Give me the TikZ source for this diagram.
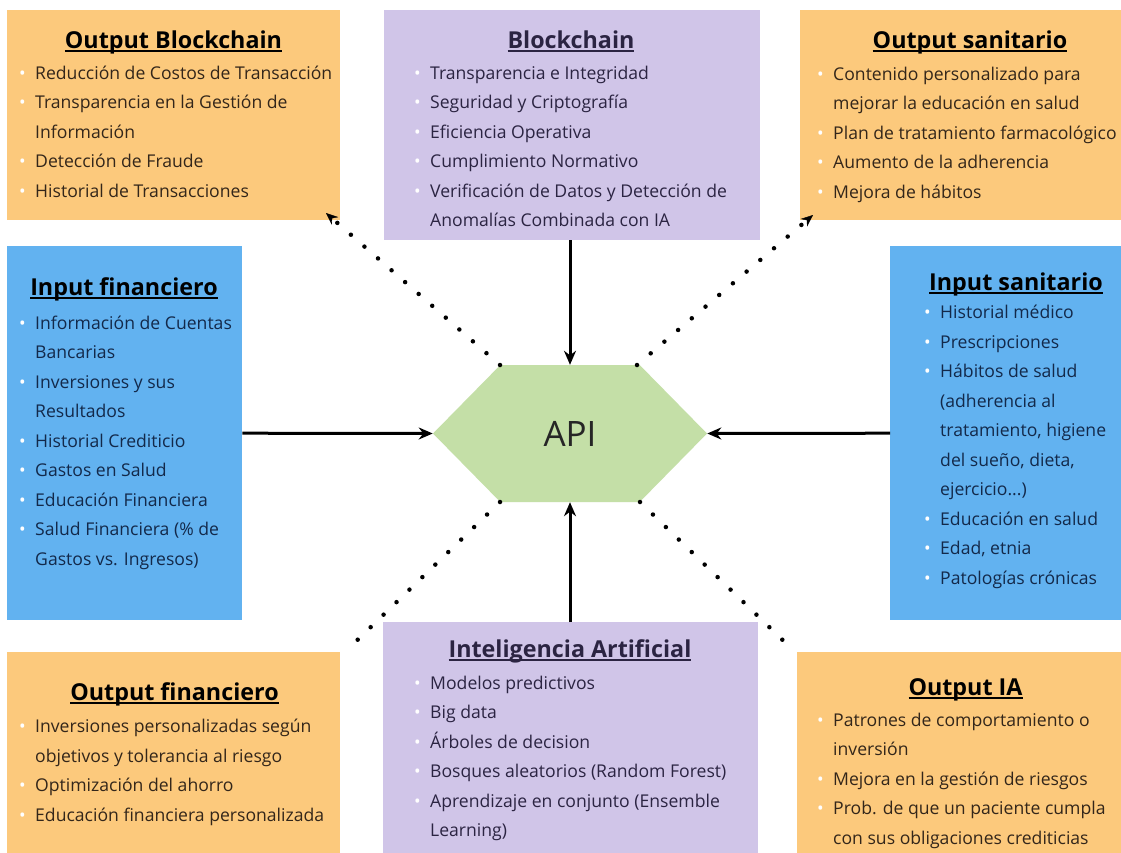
\documentclass[tikz,border=0pt]{standalone}
\usepackage{fontspec}
\setmainfont{Open Sans}
\usetikzlibrary{arrows.meta,shapes.symbols,positioning}

\definecolor{boxorange}{HTML}{FCC97C}
\definecolor{boxpurple}{HTML}{D0C5E8}
\definecolor{boxblue}{HTML}{62B2F0}
\definecolor{apigreen}{HTML}{C4DFA7}
\definecolor{txtbrown}{HTML}{33261A}
\definecolor{txtnavy}{HTML}{13294A}
\definecolor{txtplum}{HTML}{2B2442}

\newsavebox\ttlbox
\newcommand\boxtitle[1]{\sbox\ttlbox{#1}\rlap{\usebox\ttlbox}\rule[-3.8pt]{\wd\ttlbox}{1.8pt}}
\newcommand\bul{\makebox[16pt][l]{\textcolor{white}{\textbullet}}}
\newcommand\ind{\hspace*{16pt}}

\tikzstyle{boxo}=[rectangle,anchor=north west,inner sep=0pt,fill=boxorange]
\tikzstyle{boxp}=[rectangle,anchor=north west,inner sep=0pt,fill=boxpurple]
\tikzstyle{boxb}=[rectangle,anchor=north west,inner sep=0pt,fill=boxblue]
\tikzstyle{ttl}=[anchor=base,inner sep=0pt,font=\bfseries\fontsize{23.3}{27}\selectfont]
% lists are placed at the baseline of their last line
\tikzstyle{items}=[anchor=base west,inner sep=0pt,align=left,font=\fontsize{17.6}{29.5}\selectfont]
\tikzstyle{api}=[signal,signal to=west and east,signal pointer angle=91,fill=apigreen,
  minimum width=274pt,minimum height=137pt,inner sep=0pt,text=black!85,font=\fontsize{35}{40}\selectfont]
\tikzstyle{solidarrow}=[line width=3pt,-{Stealth[length=14pt,width=12pt]}]
\tikzstyle{dotline}=[line width=4.5pt,line cap=round,dash pattern=on 0pt off 18pt]
\tikzstyle{dotarrow}=[dotline,-{Stealth[length=12pt,width=10pt,line width=0.4pt]}]

\begin{document}
\begin{tikzpicture}[x=1pt,y=-1pt]
    \useasboundingbox (0,0) rectangle (1121,852);
    \fill[white] (0,0) rectangle (1121,852);

    % boxes
    \node[boxo,minimum width=333pt,minimum height=210pt] (ob)  at (7,10)    {};
    \node[boxp,minimum width=376pt,minimum height=230pt] (bc)  at (384,10)  {};
    \node[boxo,minimum width=340pt,minimum height=210pt] (os)  at (800,10)  {};
    \node[boxb,minimum width=235pt,minimum height=374pt] (inf) at (7,246)   {};
    \node[boxb,minimum width=250pt,minimum height=374pt] (ins) at (890,246) {};
    \node[boxo,minimum width=333pt,minimum height=210pt] (of)  at (7,652)   {};
    \node[boxp,minimum width=375pt,minimum height=240pt] (ia)  at (383,622) {};
    \node[boxo,minimum width=340pt,minimum height=210pt] (oia) at (797,652) {};

    % titles
    \node[ttl,text=black]   (obt)  at (173.5,48) {\boxtitle{Output Blockchain}};
    \node[ttl,text=txtplum] (bct)  at (571,48)   {\boxtitle{Blockchain}};
    \node[ttl,text=black]   (ost)  at (970,48)   {\boxtitle{Output sanitario}};
    \node[ttl,text=black]   (inft) at (124,295)  {\boxtitle{Input financiero}};
    \node[ttl,text=black]   (inst) at (1016,290) {\boxtitle{Input sanitario}};
    \node[ttl,text=black]   (oft)  at (174.5,700){\boxtitle{Output financiero}};
    \node[ttl,text=txtplum] (iat)  at (570,657)  {\boxtitle{Inteligencia Artificial}};
    \node[ttl,text=black]   (oiat) at (965.5,695){\boxtitle{Output IA}};

    % lists
    \node[items,text=txtbrown] (obl) at (19,197) {\bul Reducción de Costos de Transacción\\
      \bul Transparencia en la Gestión de\\ \ind Información\\
      \bul Detección de Fraude\\ \bul Historial de Transacciones};
    \node[items,text=txtplum] (bcl) at (414,226.5) {\bul Transparencia e Integridad\\
      \bul Seguridad y Criptografía\\ \bul Eficiencia Operativa\\
      \bul Cumplimiento Normativo\\ \bul Verificación de Datos y Detección de\\
      \ind Anomalías Combinada con IA};
    \node[items,text=txtbrown] (osl) at (817,198) {\bul Contenido personalizado para\\
      \ind mejorar la educación en salud\\ \bul Plan de tratamiento farmacológico\\
      \bul Aumento de la adherencia\\ \bul Mejora de hábitos};
    \node[items,text=txtnavy] (infl) at (19,565) {\bul Información de Cuentas\\ \ind Bancarias\\
      \bul Inversiones y sus\\ \ind Resultados\\ \bul Historial Crediticio\\
      \bul Gastos en Salud\\ \bul Educación Financiera\\
      \bul Salud Financiera (\% de\\ \ind Gastos vs. Ingresos)};
    \node[items,text=txtnavy] (insl) at (924,584) {\bul Historial médico\\ \bul Prescripciones\\
      \bul Hábitos de salud\\ \ind (adherencia al\\ \ind tratamiento, higiene\\
      \ind del sueño, dieta,\\ \ind ejercicio...)\\ \bul Educación en salud\\
      \bul Edad, etnia\\ \bul Patologías crónicas};
    \node[items,text=txtbrown] (ofl) at (19,821) {\bul Inversiones personalizadas según\\
      \ind objetivos y tolerancia al riesgo\\ \bul Optimización del ahorro\\
      \bul Educación financiera personalizada};
    \node[items,text=txtplum] (ial) at (414,836.5) {\bul Modelos predictivos\\ \bul Big data\\
      \bul Árboles de decision\\ \bul Bosques aleatorios (Random Forest)\\
      \bul Aprendizaje en conjunto (Ensemble\\ \ind Learning)};
    \node[items,text=txtbrown] (oial) at (817,844) {\bul Patrones de comportamiento o\\
      \ind inversión\\ \bul Mejora en la gestión de riesgos\\
      \bul Prob. de que un paciente cumpla\\ \ind con sus obligaciones crediticias};

    % centre
    \node[api] (api) at (570,433.5) {API};

    \coordinate (hnw) at (500,365);
    \coordinate (hne) at (637,365);
    \coordinate (hsw) at (500,502);
    \coordinate (hse) at (640,502);
    \coordinate (obtip) at (326,213);
    \coordinate (ostip) at (813,215);
    \coordinate (ofend) at (346,651);
    \coordinate (oiaend) at (794,651);

    \draw[solidarrow] (bc.south -| api.north) -- (api.north);
    \draw[solidarrow] (ia.north -| api.south) -- (api.south);
    \draw[solidarrow] (inf.east) -- (api.west);
    \draw[solidarrow] (ins.west) -- (api.east);

    \foreach \from/\to in {hnw/obtip,hne/ostip}
    \draw[dotarrow] (\from) -- (\to);
    \foreach \from/\to in {hsw/ofend,hse/oiaend}
    \draw[dotline] (\from) -- (\to);
\end{tikzpicture}
\end{document}
